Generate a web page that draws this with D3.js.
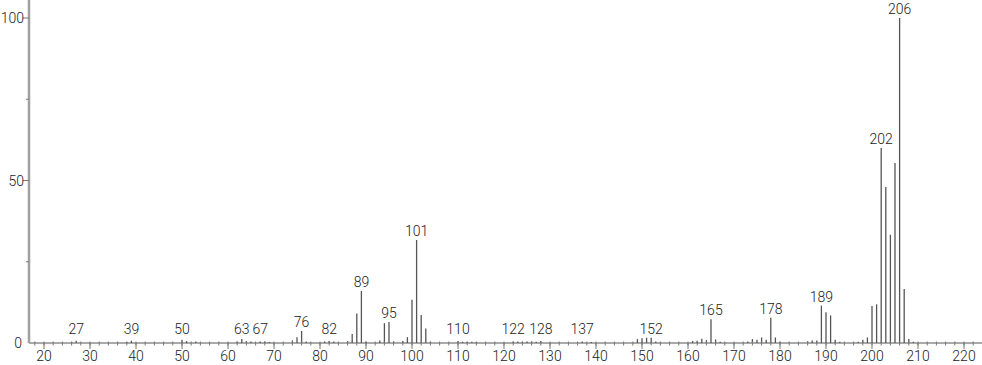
<!DOCTYPE html>
<html>
<head>
<meta charset="utf-8">
<script src="https://cdn.jsdelivr.net/npm/d3@7"></script>
<style>
  body { margin: 0; background: #fff; }
  svg { display: block; font-family: Roboto, "DejaVu Sans", sans-serif; font-weight: 300; }
</style>
</head>
<body>
<span></span>
<script>
// m/z values and relative intensities (%)
let masses = [26, 27, 38, 39, 50, 51, 53, 62, 63, 64, 65, 67, 68, 69, 74, 75, 76, 77,
    81, 82, 83, 86, 87, 88, 89, 90, 93, 94, 95, 96, 98, 99, 100, 101, 102, 103, 104,
    110, 111, 112, 113, 114, 122, 123, 124, 125, 126, 127, 128, 137, 139,
    149, 150, 151, 152, 153, 161, 162, 163, 164, 165, 166, 167,
    173, 174, 175, 176, 177, 178, 179, 180, 186, 187, 188, 189, 190, 191, 192, 193,
    197, 198, 199, 200, 201, 202, 203, 204, 205, 206, 207, 208, 209];
let intensities = [0.3, 0.7, 0.3, 0.7, 1.0, 0.6, 0.5, 0.5, 1.2, 0.6, 0.5, 0.5, 0.5, 0.3, 0.8, 1.8, 3.7, 0.5,
    0.5, 0.6, 0.5, 0.6, 2.8, 9.1, 16, 0.5, 0.8, 6.1, 6.5, 0.5, 0.6, 1.8, 13.3, 31.7, 8.6, 4.5, 0.4,
    0.6, 0.4, 0.4, 0.4, 0.3, 0.5, 0.5, 0.4, 0.5, 0.5, 0.4, 0.6, 0.5, 0.3,
    1.2, 1.5, 1.6, 1.6, 0.5, 0.6, 0.7, 1.3, 0.9, 7.3, 1.1, 0.4,
    0.5, 1.2, 1.0, 1.7, 1.0, 7.8, 1.7, 0.4, 0.5, 0.8, 0.8, 11.5, 9.5, 8.5, 1.0, 0.4,
    0.4, 1.0, 1.7, 11.4, 11.9, 60, 48, 33.3, 55.4, 100, 16.6, 1.2, 0.4];
let labelled = [27, 39, 50, 63, 67, 76, 82, 89, 95, 101, 110, 122, 128, 137, 152, 165, 178, 189, 202, 206];
let xTicks = [20, 30, 40, 50, 60, 70, 80, 90, 100, 110, 120, 130, 140, 150, 160, 170, 180, 190, 200, 210, 220];
let yTicks = [0, 50, 100];

let width = 982;
let height = 365;

let svg = d3.select("span")
    .append("svg")
    .attr("width", width)
    .attr("height", height);

let x = d3.scaleLinear().domain([20, 220]).range([44, 964]);
let y = d3.scaleLinear().domain([0, 100]).range([343, 18]);

let peaks = masses.map((m, i) => ({ m: m, v: intensities[i] }));

// peaks
svg.selectAll("line.peak")
    .data(peaks)
    .enter()
    .append("line")
    .attr("class", "peak")
    .attr("x1", d => x(d.m))
    .attr("x2", d => x(d.m))
    .attr("y1", y(0))
    .attr("y2", d => y(d.v))
    .attr("stroke", "#555")
    .attr("stroke-width", 1.3);

// x axis
let xAxis = svg.append("g").attr("transform", "translate(0," + y(0) + ")");
xAxis.append("line")
    .attr("x1", 29).attr("x2", width)
    .attr("stroke", "#555").attr("stroke-width", 1);

xAxis.selectAll("line.minor")
    .data(d3.range(18, 224, 2))
    .enter()
    .append("line")
    .attr("x1", d => x(d)).attr("x2", d => x(d))
    .attr("y1", -1.5).attr("y2", 2.5)
    .attr("stroke", "#777");

xAxis.selectAll("line.major")
    .data(xTicks)
    .enter()
    .append("line")
    .attr("x1", d => x(d)).attr("x2", d => x(d))
    .attr("y1", 0).attr("y2", 6)
    .attr("stroke", "#777");

xAxis.selectAll("text")
    .data(xTicks)
    .enter()
    .append("text")
    .attr("x", d => x(d))
    .attr("y", 18)
    .attr("text-anchor", "middle")
    .attr("font-size", 14)
    .attr("fill", "#222")
    .text(d => d);

// y axis
let yAxis = svg.append("g");
yAxis.append("line")
    .attr("x1", 29).attr("x2", 29)
    .attr("y1", 0).attr("y2", y(0))
    .attr("stroke", "#a0a0a0").attr("stroke-width", 2.5);

yAxis.selectAll("line.tick")
    .data([25, 50, 75, 100])
    .enter()
    .append("line")
    .attr("x1", d => d % 50 === 0 ? 23 : 26).attr("x2", 29)
    .attr("y1", d => y(d)).attr("y2", d => y(d))
    .attr("stroke", "#777");

yAxis.selectAll("text")
    .data(yTicks)
    .enter()
    .append("text")
    .attr("x", d => d === 0 ? 22 : 24)
    .attr("y", d => y(d) + 5)
    .attr("text-anchor", "end")
    .attr("font-size", 14)
    .attr("fill", "#222")
    .text(d => d);

// peak labels
svg.selectAll("text.label")
    .data(peaks.filter(d => labelled.includes(d.m)))
    .enter()
    .append("text")
    .attr("class", "label")
    .attr("x", d => x(d.m))
    .attr("y", d => Math.min(y(d.v), y(1.5)) - 4)
    .attr("text-anchor", "middle")
    .attr("font-size", 14)
    .attr("fill", "#222")
    .text(d => d.m);
</script>
</body>
</html>
